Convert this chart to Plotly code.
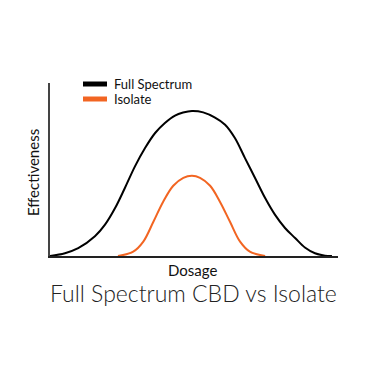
import plotly.graph_objects as go

# Data (dosage 0-100, effectiveness 0-100)
full_x = [0, 5.2, 9.8, 15.6, 19.1, 22.6, 26.0, 29.5, 33.0, 36.5, 39.9, 43.4, 46.2, 49.3, 53.2, 57.3, 60.8, 64.2, 67.7, 71.2, 74.7, 78.1, 81.6, 85.1, 88.5, 92.0, 95.5, 97.9]
full_y = [0, 1.6, 4.5, 11.4, 18.1, 27.7, 39.3, 51.8, 62.4, 71.1, 76.9, 81.2, 82.9, 83.8, 83.0, 80.0, 75.9, 68.2, 56.6, 45.1, 33.5, 23.9, 16.2, 10.4, 4.9, 1.6, 0.2, 0]
iso_x = [23.6, 28.9, 32.4, 35.9, 39.3, 42.8, 46.3, 49.3, 52.1, 55.6, 59.0, 62.5, 66.0, 69.4, 74.7]
iso_y = [0, 2.5, 8.3, 19.8, 31.4, 40.6, 45.2, 46.4, 45.2, 40.6, 31.4, 19.8, 8.3, 2.5, 0]
series_names = ["Full Spectrum", "Isolate"]
series_colors = ["#000000", "#F26522"]

OFF = 8  # page body margin
W, H = 380, 380
L, R, T, B = 50 - OFF, 50, 83 - OFF, 132
pw, ph = W - L - R, H - T - B

def px(x):
    return (x - OFF - L) / pw

def py(y):
    return (H - B - (y - OFF)) / ph

FONT = "Lato"

fig = go.Figure()
fig.add_trace(go.Scatter(x=full_x, y=full_y, mode="lines", name=series_names[0],
                         line=dict(color=series_colors[0], width=2, shape="spline", smoothing=1.0)))
fig.add_trace(go.Scatter(x=iso_x, y=iso_y, mode="lines", name=series_names[1],
                         line=dict(color=series_colors[1], width=2, shape="spline", smoothing=1.0)))

shapes = []
annotations = []
for i, (name, col) in enumerate(zip(series_names, series_colors)):
    yc = [84, 99][i]
    shapes.append(dict(type="rect", xref="paper", yref="paper",
                       x0=px(83), x1=px(107), y0=py(yc + 2.5), y1=py(yc - 2.5),
                       fillcolor=col, line=dict(width=0)))
    annotations.append(dict(text=name, xref="paper", yref="paper", x=px(112), y=py(yc),
                            xanchor="left", yanchor="middle", showarrow=False,
                            font=dict(family=FONT, size=13, color="#111111")))

annotations.append(dict(text="Effectiveness", xref="paper", yref="paper", x=px(33), y=py(173),
                        xanchor="center", yanchor="middle", textangle=-90, showarrow=False,
                        font=dict(family=FONT, size=15, color="#111111")))
annotations.append(dict(text="Dosage", xref="paper", yref="paper", x=px(192), y=py(270),
                        xanchor="center", yanchor="middle", showarrow=False,
                        font=dict(family=FONT, size=15, color="#111111")))
annotations.append(dict(text="Full Spectrum CBD vs Isolate", xref="paper", yref="paper", x=px(193), y=py(293),
                        xanchor="center", yanchor="middle", showarrow=False,
                        font=dict(family=FONT, size=23, color="#222222", weight=300)))

fig.update_layout(
    width=W, height=H, autosize=False,
    margin=dict(l=L, r=R, t=T, b=B),
    paper_bgcolor="white", plot_bgcolor="white",
    showlegend=False,
    shapes=shapes, annotations=annotations,
    xaxis=dict(range=[0, 100], showgrid=False, zeroline=False, showticklabels=False, ticks="",
               showline=True, linecolor="#222222", linewidth=2, fixedrange=True),
    yaxis=dict(range=[0, 100], showgrid=False, zeroline=False, showticklabels=False, ticks="",
               showline=True, linecolor="#444444", linewidth=1.5, fixedrange=True),
)
fig.write_html("out.html", config={"displayModeBar": False})
